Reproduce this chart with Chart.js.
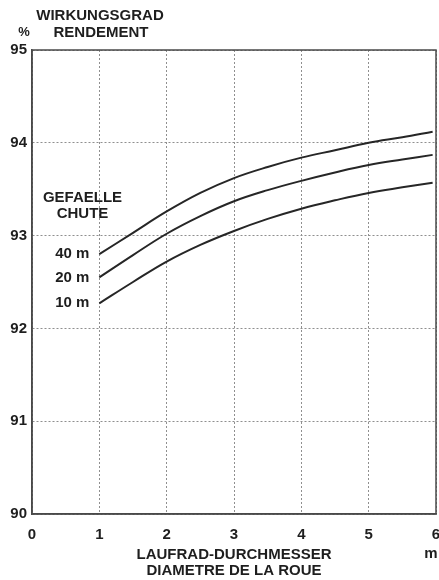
<!DOCTYPE html>
<html>
<head>
<meta charset="utf-8">
<script src="https://cdn.jsdelivr.net/npm/chart.js@4/dist/chart.umd.min.js"></script>
<style>
html,body{margin:0;padding:0;background:#fff;}
#wrap{width:439px;height:580px;position:relative;}
</style>
</head>
<body>
<div id="wrap"><canvas id="c" width="439" height="580"></canvas></div>
<script>
// Data
const diameter = [1, 1.5, 2, 2.5, 3, 3.5, 4, 4.5, 5, 5.5, 5.95];
const eff40 = [92.80, 93.03, 93.26, 93.46, 93.62, 93.74, 93.84, 93.92, 94.00, 94.06, 94.12];
const eff20 = [92.55, 92.79, 93.02, 93.21, 93.37, 93.49, 93.59, 93.68, 93.76, 93.82, 93.87];
const eff10 = [92.27, 92.50, 92.72, 92.90, 93.05, 93.18, 93.29, 93.38, 93.46, 93.52, 93.57];
const seriesNames = ['40 m', '20 m', '10 m'];
const xTicks = [0, 1, 2, 3, 4, 5, 6];
const yTicks = [90, 91, 92, 93, 94, 95];
const yTitleLines = ['WIRKUNGSGRAD', 'RENDEMENT'];
const xTitleLines = ['LAUFRAD-DURCHMESSER', 'DIAMETRE DE LA ROUE'];
const legendTitle = ['GEFAELLE', 'CHUTE'];

const FONT = '"Liberation Sans", Arial, Helvetica, sans-serif';
const INK = '#1e1e1e';

function pts(ys){ return diameter.map((x,i)=>({x:x,y:ys[i]})); }

const lineStyle = {borderColor:'#262626', borderWidth:2, pointRadius:0, tension:0.4, fill:false};

const annot = {
  id:'annot',
  afterDraw(chart){
    const ctx = chart.ctx, a = chart.chartArea;
    const xs = chart.scales.x, ys = chart.scales.y;
    ctx.save();
    // frame
    ctx.strokeStyle = '#4a4a4a';
    ctx.lineWidth = 1.5;
    ctx.setLineDash([]);
    ctx.strokeRect(a.left, a.top, a.right - a.left, a.bottom - a.top);
    ctx.fillStyle = INK;
    ctx.textBaseline = 'middle';
    // y axis title
    ctx.font = 'bold 15px ' + FONT;
    ctx.textAlign = 'center';
    ctx.fillText(yTitleLines[0], 100, 16);
    ctx.fillText(yTitleLines[1], 101, 33);
    ctx.font = 'bold 13px ' + FONT;
    ctx.fillText('%', 24, 32);
    // unit
    ctx.font = 'bold 15px ' + FONT;
    ctx.fillText('m', 431, 554);
    // legend title
    const lx = xs.getPixelForValue(0.75);
    ctx.fillText(legendTitle[0], lx, ys.getPixelForValue(93.41));
    ctx.fillText(legendTitle[1], lx, ys.getPixelForValue(93.23));
    // series labels at curve starts
    ctx.textAlign = 'right';
    chart.data.datasets.forEach((ds, i) => {
      const p = ds.data[0];
      ctx.fillText(seriesNames[i], xs.getPixelForValue(p.x) - 10, ys.getPixelForValue(p.y));
    });
    ctx.restore();
  }
};

new Chart(document.getElementById('c'), {
  type: 'line',
  data: {
    datasets: [
      Object.assign({label: seriesNames[0], data: pts(eff40)}, lineStyle),
      Object.assign({label: seriesNames[1], data: pts(eff20)}, lineStyle),
      Object.assign({label: seriesNames[2], data: pts(eff10)}, lineStyle)
    ]
  },
  options: {
    responsive: false,
    animation: false,
    layout: {padding: {left: 6, right: 3, top: 50, bottom: 0}},
    plugins: {legend: {display: false}, tooltip: {enabled: false}},
    scales: {
      x: {
        type: 'linear', min: 0, max: 6,
        afterBuildTicks: s => { s.ticks = xTicks.map(v => ({value: v})); },
        afterFit: s => { s.height = 66; s.paddingLeft = 0; s.paddingRight = 0; },
        ticks: {color: INK, padding: 12, font: {family: FONT, size: 15, weight: 'bold'}, maxRotation: 0},
        grid: {color: '#8f8f8f', lineWidth: 1, drawTicks: false},
        border: {display: true, color: '#4a4a4a', width: 1.5, dash: [2,2]},
        title: {display: true, text: xTitleLines, color: INK, font: {family: FONT, size: 15, weight: 'bold', lineHeight: '16px'}, padding: {top: 0, bottom: 1}}
      },
      y: {
        type: 'linear', min: 90, max: 95,
        afterBuildTicks: s => { s.ticks = yTicks.map(v => ({value: v})); },
        afterFit: s => { s.width = 26; s.paddingTop = 0; s.paddingBottom = 0; },
        ticks: {color: INK, padding: 5, font: {family: FONT, size: 15, weight: 'bold'}},
        grid: {color: '#8f8f8f', lineWidth: 1, drawTicks: false},
        border: {display: true, color: '#4a4a4a', width: 1.5, dash: [2,2]}
      }
    }
  },
  plugins: [annot]
});
</script>
</body>
</html>
